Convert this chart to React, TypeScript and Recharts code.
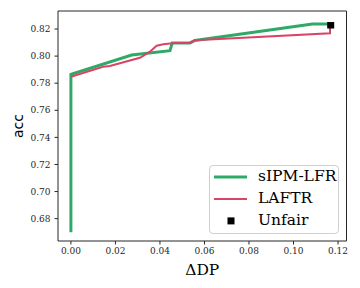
import React from 'react';
import { ComposedChart, Line, Scatter, XAxis, YAxis, Legend, ReferenceLine } from 'recharts';

const sipmX = [0, 0, 0.0273, 0.0445, 0.0455, 0.0535, 0.0557, 0.1085, 0.1164];
const sipmY = [0.670, 0.7866, 0.8008, 0.8040, 0.8097, 0.8097, 0.8115, 0.8237, 0.8237];

const laftrX = [0, 0.0144, 0.0175, 0.031, 0.0355, 0.0385, 0.0415, 0.0467, 0.0535, 0.0557, 0.1164, 0.1164];
const laftrY = [0.7848, 0.7922, 0.7927, 0.7988, 0.8033, 0.8077, 0.8087, 0.8097, 0.8097, 0.8117, 0.8168, 0.8235];

const unfairX = [0.1167];
const unfairY = [0.8228];

const xTicks = [0, 0.02, 0.04, 0.06, 0.08, 0.1, 0.12];
const yTicks = [0.68, 0.7, 0.72, 0.74, 0.76, 0.78, 0.8, 0.82];

const xDomain = [-0.0058, 0.1238];
const yDomain = [0.6635, 0.8333];

const GREEN = '#2eaa66';
const RED = '#d94466';
const INK = '#262626';
const FONT = '"DejaVu Serif", serif';
const SANS = '"DejaVu Sans", sans-serif';

const toPts = (xs: number[], ys: number[]) => xs.map((x, i) => ({ x, y: ys[i] }));
const sipmData = toPts(sipmX, sipmY);
const laftrData = toPts(laftrX, laftrY);
const unfairData = toPts(unfairX, unfairY);

const seriesStyle: Record<string, { color: string; width: number; marker?: boolean }> = {
  'sIPM-LFR': { color: GREEN, width: 3 },
  LAFTR: { color: RED, width: 2 },
  Unfair: { color: '#000', width: 0, marker: true },
};

const legendOrder = ['sIPM-LFR', 'LAFTR', 'Unfair'];

const LegendBox = () => (
  <div
    style={{
      width: 128,
      height: 67,
      border: '1px solid #d0d0d0',
      borderRadius: 4,
      background: 'rgba(255,255,255,0.8)',
      fontFamily: FONT,
      fontSize: 15.5,
      color: '#000',
    }}
  >
    {legendOrder.map((name) => {
      const s = seriesStyle[name];
      return (
        <div key={name} style={{ height: 21.8, display: 'flex', alignItems: 'center', position: 'relative' }}>
          <svg width={48} height={21.8} style={{ display: 'block' }}>
            {s.marker ? (
              <rect x={17.5} y={7.4} width={7} height={7} fill="#000" />
            ) : (
              <line x1={4} x2={37} y1={10.9} y2={10.9} stroke={s.color} strokeWidth={s.width} />
            )}
          </svg>
          <span style={{ lineHeight: '21.8px', whiteSpace: 'nowrap' }}>{name}</span>
        </div>
      );
    })}
  </div>
);

const Square = (props: any) => {
  const { cx, cy } = props;
  return <rect x={cx - 3.5} y={cy - 3.2} width={7} height={6.5} fill="#000" />;
};

const YLabel = (props: any) => {
  const vb = props.viewBox || { x: 0, y: 0, width: 0, height: 0 };
  const cx = vb.x + 18;
  const cy = vb.y + vb.height / 2;
  return (
    <text x={cx} y={cy} transform={`rotate(-90 ${cx} ${cy})`} textAnchor="middle" dominantBaseline="central"
      fontFamily={SANS} fontSize={14} fill="#000">acc</text>
  );
};

const XLabel = (props: any) => {
  const vb = props.viewBox || { x: 0, y: 0, width: 0, height: 0 };
  return (
    <text x={vb.x + vb.width / 2} y={vb.y + 34} textAnchor="middle" fontFamily={FONT} fontSize={15.5} fill="#000">
      ΔDP
    </text>
  );
};

export default function App() {
  return (
    <div style={{ position: 'absolute', left: 0, top: 0, width: 360, height: 288, background: '#fff' }}>
      <ComposedChart width={360} height={288} margin={{ top: 11, right: 13.5, bottom: 0, left: 0 }}>
        <XAxis
          dataKey="x"
          type="number"
          domain={xDomain}
          ticks={xTicks}
          allowDataOverflow
          tickFormatter={(v: number) => v.toFixed(2)}
          height={47}
          tickSize={3.5}
          tickMargin={3.5}
          stroke={INK}
          tick={{ fontFamily: FONT, fontSize: 9, fill: INK }}
          label={<XLabel />}
        />
        <YAxis
          dataKey="y"
          type="number"
          domain={yDomain}
          ticks={yTicks}
          allowDataOverflow
          tickFormatter={(v: number) => v.toFixed(2)}
          width={58}
          tickSize={3.5}
          tickMargin={4}
          stroke={INK}
          tick={{ fontFamily: FONT, fontSize: 9, fill: INK }}
          label={<YLabel />}
        />
        <ReferenceLine y={yDomain[1]} stroke={INK} strokeWidth={1} ifOverflow="visible" />
        <ReferenceLine x={xDomain[1]} stroke={INK} strokeWidth={1} ifOverflow="visible" />
        <Line
          name="sIPM-LFR"
          data={sipmData}
          dataKey="y"
          type="linear"
          stroke={GREEN}
          strokeWidth={3}
          dot={false}
          activeDot={false}
          isAnimationActive={false}
        />
        <Line
          name="LAFTR"
          data={laftrData}
          dataKey="y"
          type="linear"
          stroke={RED}
          strokeWidth={2}
          dot={false}
          activeDot={false}
          isAnimationActive={false}
        />
        <Scatter
          name="Unfair"
          data={unfairData}
          dataKey="y"
          fill="#000"
          shape={<Square />}
          legendType="square"
          isAnimationActive={false}
        />
        <Legend
          layout="vertical"
          align="center"
          verticalAlign="middle"
          content={<LegendBox />}
          wrapperStyle={{ position: 'absolute', left: 209, top: 165, width: 130, height: 69 }}
        />
      </ComposedChart>
    </div>
  );
}
